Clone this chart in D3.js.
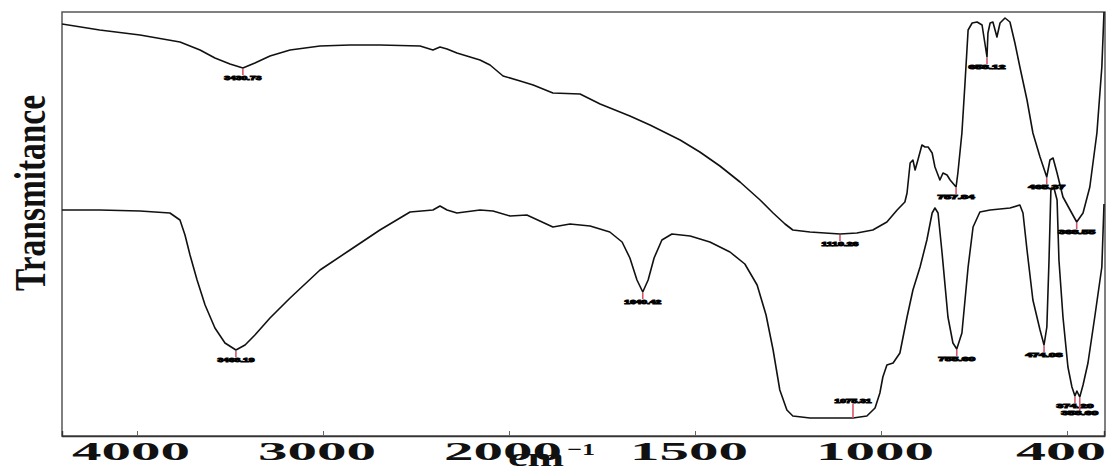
<!DOCTYPE html>
<html>
<head>
<meta charset="utf-8">
<script src="https://cdn.jsdelivr.net/npm/d3@7"></script>
<style>
  html, body { margin: 0; padding: 0; background: #fff; }
  svg { display: block; }
</style>
</head>
<body>
<svg id="chart" width="1111" height="472"></svg>
<script>
// Wavenumber (cm-1) and transmittance (arbitrary units) for the upper spectrum
const upperWavenumber = [4400, 4199, 3984, 3769, 3661, 3581, 3500, 3430.73, 3366, 3285, 3177, 3016, 2855, 2694, 2478, 2409, 2371, 2333, 2280, 2156, 2102, 2032, 1970, 1935, 1882, 1809, 1755, 1675, 1621, 1540, 1487, 1433, 1379, 1325, 1290, 1258, 1237, 1191, 1110.26, 1065, 1022, 981, 948, 923, 916, 906, 897, 890, 881, 868, 858, 848, 835, 826, 810, 800, 787, 777, 757.84, 752, 739, 729, 719, 706, 690, 674, 665, 658.12, 655, 648, 639, 626, 616, 600, 584, 568, 552, 529, 510, 487, 465.37, 455, 445, 432, 413, 390, 368.55, 348, 326, 303, 287, 280];
const upperT = [103, 101.5, 100.25, 98.5, 96.5, 94.5, 93, 92, 93.25, 95, 96.5, 97.5, 97.75, 97.75, 97.5, 96.5, 97.25, 96.75, 95.75, 94, 92.75, 90, 88.75, 87.75, 85.75, 85.5, 83, 80, 77.75, 74, 71, 67.5, 63.5, 59, 55.75, 53, 51.5, 51, 50.5, 50.75, 51.5, 53.5, 56.5, 58.5, 60.75, 68.25, 69, 66.5, 69, 72.75, 72.25, 72.25, 70.75, 67.25, 64, 65.75, 65.25, 64, 62.25, 65.75, 75.75, 88.25, 101.5, 103.25, 103.5, 102.75, 98.25, 94.75, 100.75, 103.25, 103.5, 99.75, 103.25, 104.5, 103.5, 98.25, 92.25, 84, 75.75, 69.75, 64.75, 69, 69.5, 65.75, 59.75, 56.5, 53.5, 55.75, 62.25, 75.75, 92.25, 106];

// Wavenumber (cm-1) and transmittance (arbitrary units) for the lower spectrum
const lowerWavenumber = [4400, 4199, 3984, 3823, 3769, 3742, 3715, 3677, 3634, 3581, 3527, 3468.19, 3419, 3366, 3285, 3177, 3016, 2855, 2694, 2532, 2409, 2371, 2333, 2280, 2156, 2086, 1997, 1952, 1882, 1836, 1782, 1729, 1696, 1675, 1656, 1640.42, 1626, 1610, 1589, 1562, 1513, 1460, 1406, 1366, 1333, 1309, 1290, 1272, 1253, 1237, 1191, 1075.31, 1038, 1016, 1003, 994, 981, 961, 939, 916, 897, 874, 852, 835, 826, 816, 803, 784, 768, 755.6, 739, 719, 703, 681, 648, 616, 584, 552, 542, 529, 510, 487, 474.08, 465, 458, 452, 442, 432, 426, 413, 397, 384, 374.2, 368, 358.6, 348, 332, 310, 287, 280];
const lowerT = [56.5, 56.5, 56.25, 55.75, 54, 50.25, 45.25, 39, 32.75, 27, 23.25, 21.5, 22.75, 25.25, 29.5, 34.5, 41.5, 46.5, 51.5, 56, 56.5, 57.5, 56.5, 55.75, 56.5, 56.25, 55, 55.25, 52.25, 53, 52.5, 51, 48.5, 44.5, 39, 36, 39, 44.5, 49, 50.5, 50, 48.5, 46, 43, 37.75, 30.25, 21.5, 11.5, 6.5, 5, 4.5, 4.5, 5, 7, 10.75, 14.75, 17.75, 18.25, 20.75, 29.75, 36.5, 42.25, 49, 55.75, 57, 55.75, 45.75, 29.75, 23.25, 21.75, 25.75, 42.25, 52.25, 56, 56.5, 56.75, 57, 57.75, 55.75, 46.5, 34, 26.5, 22.75, 27.25, 44, 61.5, 62, 59, 44, 29.75, 17.25, 12.25, 10, 11.25, 9.75, 12.75, 18.25, 29.75, 42.25, 58];

// Marked band positions (cm-1)
const upperPeaks = [3430.73, 1110.26, 757.84, 658.12, 465.37, 368.55];
const lowerPeaks = [3468.19, 1640.42, 1075.31, 755.6, 474.08, 374.2, 358.6];

// Axis
const xTicks = [4000, 3000, 2000, 1500, 1000, 400];
const xBreaks = [4400, 4000, 3000, 2000, 1500, 1000, 400, 280];
const yLabel = "Transmitance";
const xUnit = "cm";
const xUnitExp = "\u22121";

const svg = d3.select("#chart");
const plotLeft = 62, plotRight = 1105, plotTop = 12, plotBottom = 436;
const tickStep = 186, firstTick = 137;

// Split (piecewise linear) wavenumber scale: each labelled interval gets equal width
const xRange = xBreaks.map((v, i) => {
  if (i === 0) return plotLeft;
  if (i === xBreaks.length - 1) return firstTick + tickStep * (xTicks.length - 1) + 37;
  return firstTick + tickStep * (i - 1);
});
const x = d3.scaleLinear().domain(xBreaks).range(xRange);
const y = d3.scaleLinear().domain([0, 106]).range([plotBottom, plotTop]);

svg.append("defs").append("clipPath").attr("id", "plot-clip")
  .append("rect").attr("x", plotLeft).attr("y", plotTop)
  .attr("width", plotRight - plotLeft).attr("height", plotBottom - plotTop);

// Frame
svg.append("rect")
  .attr("x", plotLeft).attr("y", plotTop)
  .attr("width", plotRight - plotLeft).attr("height", plotBottom - plotTop)
  .attr("fill", "none").attr("stroke", "#4a4a4a").attr("stroke-width", 1.4);

// Bottom axis with inward ticks
const xAxis = d3.axisBottom(x).tickValues(xTicks).tickSize(-5).tickFormat("");
const axisG = svg.append("g").attr("transform", `translate(0,${plotBottom})`).call(xAxis);
axisG.select(".domain").attr("stroke", "#333").attr("stroke-width", 1.4);
axisG.selectAll(".tick line").attr("stroke", "#666").attr("stroke-width", 1);

// Tick labels in a wide bold serif
svg.append("g").selectAll("text").data(xTicks).join("text")
  .attr("x", d => x(d) - 6)
  .attr("y", 460)
  .attr("text-anchor", "middle")
  .attr("font-family", "Liberation Serif, DejaVu Serif, serif")
  .attr("font-weight", "bold")
  .attr("font-size", 26)
  .attr("textLength", d => String(d).length === 4 ? 118 : 90)
  .attr("lengthAdjust", "spacingAndGlyphs")
  .attr("fill", "#111")
  .text(d => d);

// Unit label cm-1
svg.append("text")
  .attr("x", 508).attr("y", 466)
  .attr("font-family", "Liberation Serif, DejaVu Serif, serif")
  .attr("font-weight", "bold").attr("font-size", 25)
  .attr("textLength", 56).attr("lengthAdjust", "spacingAndGlyphs")
  .attr("fill", "#111").text(xUnit);
svg.append("text")
  .attr("x", 567).attr("y", 455)
  .attr("font-family", "Liberation Serif, DejaVu Serif, serif")
  .attr("font-weight", "bold").attr("font-size", 17)
  .attr("textLength", 28).attr("lengthAdjust", "spacingAndGlyphs")
  .attr("fill", "#111").text(xUnitExp);

// Y label
svg.append("text")
  .attr("transform", "translate(45,193) rotate(-90)")
  .attr("text-anchor", "middle")
  .attr("font-family", "Liberation Serif, DejaVu Serif, serif")
  .attr("font-weight", "bold").attr("font-size", 44)
  .attr("textLength", 196).attr("lengthAdjust", "spacingAndGlyphs")
  .attr("fill", "#111").text(yLabel);

// Spectra
const line = d3.line().x(d => x(d[0])).y(d => y(d[1]));
const curves = svg.append("g").attr("clip-path", "url(#plot-clip)");
const upper = d3.zip(upperWavenumber, upperT);
const lower = d3.zip(lowerWavenumber, lowerT);
[upper, lower].forEach(s => {
  curves.append("path").datum(s)
    .attr("d", line)
    .attr("fill", "none").attr("stroke", "#111")
    .attr("stroke-width", 1.6).attr("stroke-linejoin", "round");
});

// Peak markers: red drop line and small value label
const fmt = d3.format(".2f");
function markPeaks(peaks, wn, tr) {
  const interp = wv => {
    // transmittance at a band position, linear between the stored points
    for (let i = 0; i < wn.length - 1; i++) {
      if (wv <= wn[i] && wv >= wn[i + 1]) {
        const f = (wn[i] - wv) / (wn[i] - wn[i + 1]);
        return tr[i] + f * (tr[i + 1] - tr[i]);
      }
    }
    return tr[tr.length - 1];
  };
  let prev = null;
  const g = svg.append("g");
  peaks.forEach(p => {
    const px = x(p), py = y(interp(p));
    // bands sitting on the floor of the frame get their label above
    const above = py > plotBottom - 30;
    let ty = above ? py - 15 : py + 12;
    let y1 = above ? ty + 1 : py + 1;
    let y2 = above ? py : py + 7;
    if (prev && Math.abs(prev.px - px) < 12) {
      ty = prev.ty + 7;
      y2 = ty - 4;
    }
    g.append("line")
      .attr("x1", px).attr("x2", px)
      .attr("y1", y1).attr("y2", y2)
      .attr("stroke", "#d9546a").attr("stroke-width", 1.6);
    g.append("text")
      .attr("x", px).attr("y", ty)
      .attr("text-anchor", "middle")
      .attr("font-family", "Liberation Sans, Arial, sans-serif")
      .attr("font-weight", "bold").attr("font-size", 6)
      .attr("textLength", 37).attr("lengthAdjust", "spacingAndGlyphs")
      .attr("fill", "#000").attr("stroke", "#000").attr("stroke-width", 1)
      .text(fmt(p));
    prev = { px, ty };
  });
}
markPeaks(upperPeaks, upperWavenumber, upperT);
markPeaks(lowerPeaks, lowerWavenumber, lowerT);
</script>
</body>
</html>
